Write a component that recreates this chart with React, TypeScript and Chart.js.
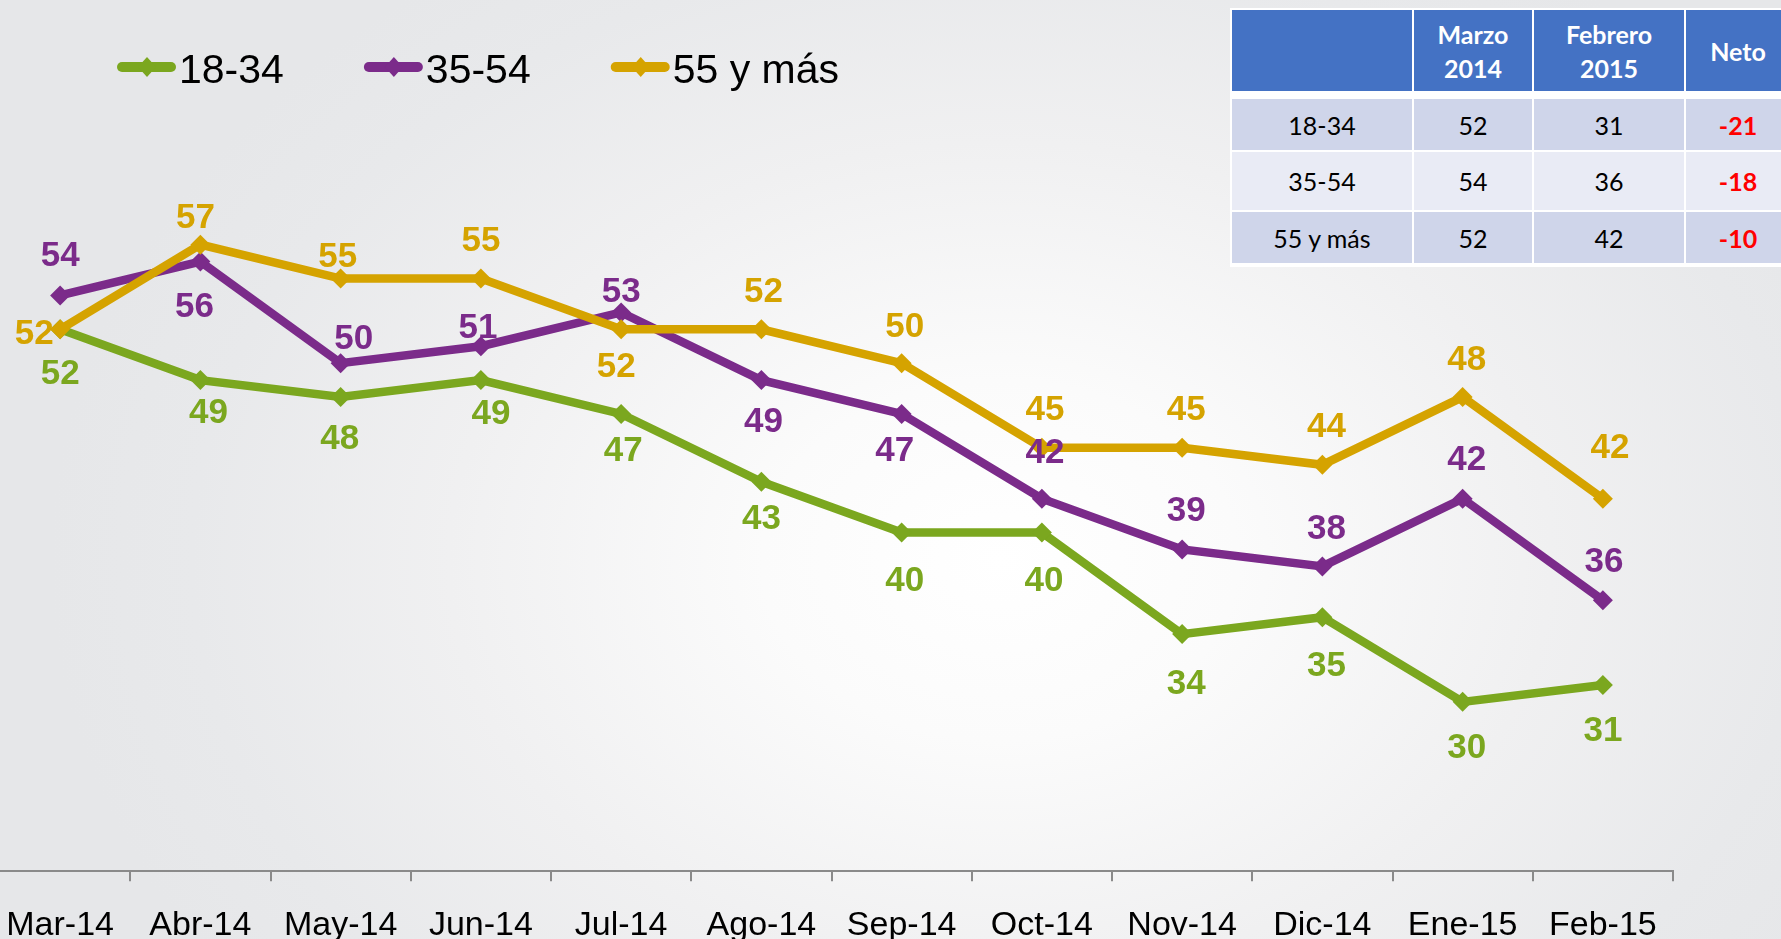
import React, { useEffect, useRef } from "react";
import { Chart, registerables } from "chart.js";

Chart.register(...registerables);

// ---------- DATA ----------
const categories = ["Mar-14", "Abr-14", "May-14", "Jun-14", "Jul-14", "Ago-14", "Sep-14", "Oct-14", "Nov-14", "Dic-14", "Ene-15", "Feb-15"];
const seriesNames = ["18-34", "35-54", "55 y más"];
const values1834 = [52, 49, 48, 49, 47, 43, 40, 40, 34, 35, 30, 31];
const values3554 = [54, 56, 50, 51, 53, 49, 47, 42, 39, 38, 42, 36];
const values55mas = [52, 57, 55, 55, 52, 52, 50, 45, 45, 44, 48, 42];
const tableHeaders = ["", "Marzo\n2014", "Febrero\n2015", "Neto"];

// ---------- STYLE ----------
const seriesColors = ["#7BA71F", "#7B2B8A", "#D5A300"];
// data label offsets from each point [dx, dy] in px
const labelOffsets1834 = [[0, 42], [8, 30], [-1, 39], [10, 31], [2, 35], [0, 35], [3, 46], [2, 46], [4, 47], [4, 46], [4, 44], [0, 44]];
const labelOffsets3554 = [[0, -42], [-6, 43], [13, -27], [-3, -21], [0, -23], [2, 39], [-7, 35], [3, -48], [4, -41], [4, -40], [4, -41], [1, -41]];
const labelOffsets55mas = [[-26, 2], [-5, -29], [-3, -24], [0, -40], [-5, 35], [2, -40], [3, -39], [3, -40], [4, -40], [4, -40], [4, -40], [7, -53]];

const SHIFT = 20; // canvas is shifted left so the first category sits near the edge
const CANVAS_H = 970;
const FONT = '"Liberation Sans", Arial, sans-serif';

const valueLabelPlugin = {
  id: "valueLabels",
  afterDatasetsDraw(chart: any) {
    const ctx = chart.ctx;
    const offsets = [labelOffsets1834, labelOffsets3554, labelOffsets55mas];
    ctx.save();
    ctx.font = `bold 35px ${FONT}`;
    ctx.textAlign = "center";
    ctx.textBaseline = "alphabetic";
    chart.data.datasets.forEach((ds: any, i: number) => {
      const meta = chart.getDatasetMeta(i);
      ctx.fillStyle = ds.borderColor;
      meta.data.forEach((pt: any, j: number) => {
        const [dx, dy] = offsets[i][j];
        ctx.fillText(String(ds.data[j]), pt.x + dx, pt.y + dy + 12.5);
      });
    });
    ctx.restore();
  },
};

const customLegendPlugin = {
  id: "customLegend",
  afterDraw(chart: any) {
    const ctx = chart.ctx;
    ctx.save();
    ctx.font = `41px ${FONT}`;
    ctx.textBaseline = "alphabetic";
    ctx.textAlign = "left";
    let x = 118 + SHIFT;
    const yLine = 67;
    chart.data.datasets.forEach((ds: any) => {
      ctx.strokeStyle = ds.borderColor;
      ctx.fillStyle = ds.borderColor;
      ctx.lineWidth = 10;
      ctx.lineCap = "round";
      ctx.beginPath();
      ctx.moveTo(x + 4, yLine);
      ctx.lineTo(x + 53, yLine);
      ctx.stroke();
      const cx = x + 29;
      ctx.beginPath();
      ctx.moveTo(cx - 9, yLine);
      ctx.lineTo(cx, yLine - 10);
      ctx.lineTo(cx + 9, yLine);
      ctx.lineTo(cx, yLine + 10);
      ctx.closePath();
      ctx.fill();
      ctx.fillStyle = "#000";
      const tx = x + 61;
      ctx.fillText(ds.label, tx, 83);
      x = tx + ctx.measureText(ds.label).width + 81;
    });
    ctx.restore();
  },
};

function ChartCanvas() {
  const ref = useRef<HTMLCanvasElement | null>(null);
  useEffect(() => {
    if (!ref.current) return;
    const series = [values1834, values3554, values55mas];
    const chart = new Chart(ref.current, {
      type: "line",
      data: {
        labels: categories,
        datasets: series.map((vals, i) => ({
          label: seriesNames[i],
          data: vals,
          borderColor: seriesColors[i],
          backgroundColor: seriesColors[i],
          borderWidth: 8.5,
          pointStyle: "rectRot",
          pointRadius: 10,
          pointBorderWidth: 0,
          pointBackgroundColor: seriesColors[i],
          tension: 0,
          fill: false,
          order: 3 - i,
        })),
      },
      options: {
        animation: false,
        responsive: true,
        maintainAspectRatio: false,
        layout: { padding: { top: 24.5, bottom: 0, left: 0, right: 108 } },
        plugins: { legend: { display: false }, tooltip: { enabled: false } },
        scales: {
          x: {
            type: "category",
            offset: true,
            afterFit(scale: any) {
              scale.paddingLeft = 0;
              scale.paddingRight = 0;
            },
            grid: {
              display: true,
              offset: true,
              drawOnChartArea: false,
              drawTicks: true,
              tickLength: 10,
              color: "#8a8a8a",
              lineWidth: 2,
            },
            border: { display: true, color: "#8a8a8a", width: 2 },
            ticks: {
              color: "#000",
              font: { family: FONT, size: 34 },
              padding: 24,
              maxRotation: 0,
              autoSkip: false,
            },
          },
          y: { display: false, min: 20, max: 70 },
        },
      },
      plugins: [valueLabelPlugin, customLegendPlugin],
    });
    return () => chart.destroy();
  }, []);
  return (
    <div style={{ position: "fixed", left: -SHIFT, top: 0, width: 1781 + SHIFT, height: CANVAS_H }}>
      <canvas ref={ref} />
    </div>
  );
}

function DataTable() {
  const series = [values1834, values3554, values55mas];
  const colW = [180, 118, 150, 104];
  const rowH = [51, 58, 51];
  const cell = (w: number, h: number, bg: string, content: React.ReactNode, extra: React.CSSProperties = {}) => (
    <div
      style={{
        width: w,
        height: h,
        background: bg,
        display: "flex",
        alignItems: "center",
        justifyContent: "center",
        textAlign: "center",
        whiteSpace: "pre-line",
        flex: "none",
        ...extra,
      }}
    >
      {content}
    </div>
  );
  return (
    <div
      style={{
        position: "fixed",
        left: 1230,
        top: 8,
        background: "#ffffff",
        padding: 2,
        fontFamily: "Lato, 'Open Sans', sans-serif",
        fontSize: 25,
        lineHeight: "34px",
        color: "#000",
      }}
    >
      <div style={{ display: "flex", gap: 2, marginBottom: 8 }}>
        {tableHeaders.map((h, i) =>
          <React.Fragment key={i}>{cell(colW[i], 81, "#4472C4", h, { color: "#fff", fontWeight: 700 })}</React.Fragment>
        )}
      </div>
      {series.map((vals, r) => {
        const first = vals[0];
        const last = vals[vals.length - 1];
        const net = last - first;
        const bg = r % 2 === 0 ? "#CFD5EA" : "#E9EBF5";
        return (
          <div key={r} style={{ display: "flex", gap: 2, marginBottom: 2 }}>
            {cell(colW[0], rowH[r], bg, seriesNames[r])}
            {cell(colW[1], rowH[r], bg, String(first))}
            {cell(colW[2], rowH[r], bg, String(last))}
            {cell(colW[3], rowH[r], bg, String(net), { color: "#FF0000", fontWeight: 700 })}
          </div>
        );
      })}
    </div>
  );
}

export default function App() {
  return (
    <div>
      <div
        style={{
          position: "fixed",
          left: 0,
          top: 0,
          width: 1781,
          height: 939,
          background:
            "radial-gradient(ellipse 950px 720px at 1000px 560px, #ffffff 0%, #fbfbfb 25%, #f0f0f1 58%, #e8e9eb 85%, #e6e7e9 100%)",
        }}
      />
      <ChartCanvas />
      <DataTable />
    </div>
  );
}
